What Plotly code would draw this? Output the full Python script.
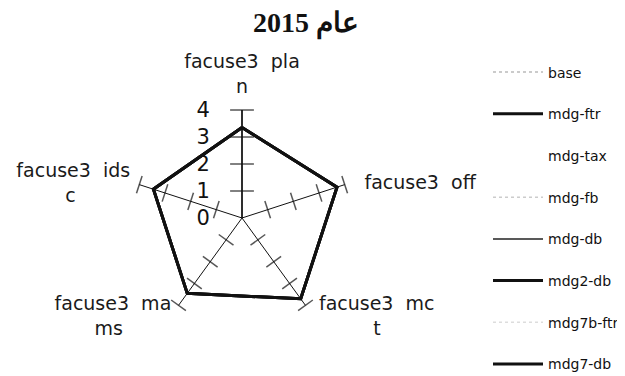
import plotly.graph_objects as go

categories = ["facuse3 plan", "facuse3 off", "facuse3 mct", "facuse3 mams", "facuse3 idsc"]
series_names = ["base", "mdg-ftr", "mdg-tax", "mdg-fb", "mdg-db", "mdg2-db", "mdg7b-ftr", "mdg7-db"]
values = {
    "base":      [3.35, 3.7, 3.7, 3.45, 3.45],
    "mdg-ftr":   [3.35, 3.7, 3.7, 3.45, 3.45],
    "mdg-tax":   [3.35, 3.7, 3.7, 3.45, 3.45],
    "mdg-fb":    [3.35, 3.7, 3.7, 3.45, 3.45],
    "mdg-db":    [3.35, 3.7, 3.7, 3.45, 3.45],
    "mdg2-db":   [3.35, 3.7, 3.7, 3.45, 3.45],
    "mdg7b-ftr": [3.35, 3.7, 3.7, 3.45, 3.45],
    "mdg7-db":   [3.35, 3.7, 3.7, 3.45, 3.45],
}
radial_ticks = [0, 1, 2, 3, 4]
title_text = "<b>عام 2015</b>"

NB = "\u00a0"
axis_label_text = [
    "facuse3" + NB * 2 + "pla<br>n",
    "facuse3" + NB * 2 + "off",
    NB + "<br>facuse3" + NB * 2 + "mc<br>" + NB * 9 + "t",
    NB + "<br>facuse3" + NB * 2 + "ma<br>ms" + NB * 8,
    "facuse3" + NB * 2 + "ids<br>c" + NB * 9,
]
label_pos = ["top center", "middle right", "middle right", "middle left", "middle left"]
label_gap = [18, 30, 20, 10, 13]

styles = {
    "base":      dict(color="#bbbbbb", width=1.5, dash="dot"),
    "mdg-ftr":   dict(color="#111111", width=3, dash="solid"),
    "mdg-tax":   dict(color="rgba(255,255,255,0)", width=1, dash="solid"),
    "mdg-fb":    dict(color="#cccccc", width=1.5, dash="dot"),
    "mdg-db":    dict(color="#222222", width=1.5, dash="solid"),
    "mdg2-db":   dict(color="#111111", width=3, dash="solid"),
    "mdg7b-ftr": dict(color="#dddddd", width=1.5, dash="dot"),
    "mdg7-db":   dict(color="#111111", width=3, dash="solid"),
}
draw_order = ["mdg-tax", "base", "mdg-fb", "mdg7b-ftr", "mdg-db", "mdg-ftr", "mdg2-db", "mdg7-db"]

fig = go.Figure()

# tick marks on each spoke
tick_r, tick_th, tick_ang, tick_sz = [], [], [], []
for i, c in enumerate(categories):
    for t in radial_ticks[1:]:
        tick_r.append(t)
        tick_th.append(c)
        tick_ang.append(72 * i)
        tick_sz.append(17 if i == 0 else 13)
fig.add_trace(go.Scatterpolar(
    r=tick_r, theta=tick_th, mode="markers", showlegend=False, hoverinfo="skip",
    marker=dict(symbol="line-ew", size=tick_sz, angle=tick_ang,
                line=dict(color="#111111", width=1.5)),
))

# axis (category) labels, placed at the end of each spoke
fig.add_trace(go.Scatterpolar(
    r=[radial_ticks[-1]] * len(categories), theta=categories, mode="markers+text",
    text=axis_label_text, textposition=label_pos, cliponaxis=False,
    showlegend=False, hoverinfo="skip",
    marker=dict(size=label_gap, opacity=0, color="white"),
    textfont=dict(family="DejaVu Sans", size=19, color="#1a1a1a"),
))

for name in draw_order:
    v = values[name]
    fig.add_trace(go.Scatterpolar(
        r=v + [v[0]], theta=categories + [categories[0]],
        mode="lines", name=name, line=styles[name],
        legendrank=series_names.index(name) + 1,
        legendgroup=name,
    ))

fig.update_layout(
    width=625, height=376,
    paper_bgcolor="white", plot_bgcolor="white",
    margin=dict(l=0, r=0, t=0, b=0),
    title=dict(text=title_text, x=0.4768, xanchor="center", y=0.9614, yanchor="middle",
               font=dict(family="Liberation Serif", size=28, color="#111111")),
    polar=dict(
        domain=dict(x=[0.2016, 0.5472], y=[0.1543, 0.7287]),
        bgcolor="white",
        radialaxis=dict(range=[0, 4], tickvals=radial_ticks, angle=90, tickangle=90,
                        showline=True, linecolor="#111111", linewidth=1.5,
                        showgrid=False, ticks="outside", ticklen=24, tickcolor="rgba(0,0,0,0)",
                        side="counterclockwise",
                        tickfont=dict(family="DejaVu Sans", size=21, color="#111111")),
        angularaxis=dict(rotation=90, direction="clockwise", showline=False,
                         showgrid=True, gridcolor="#111111", gridwidth=1.2,
                         ticks="", showticklabels=False),
    ),
    legend=dict(x=0.768, y=0.871, xanchor="left", yanchor="top",
                itemwidth=50,
                font=dict(family="DejaVu Sans", size=14, color="#111111"),
                tracegroupgap=20.5, bgcolor="rgba(0,0,0,0)"),
)

fig.write_html("out.html")
